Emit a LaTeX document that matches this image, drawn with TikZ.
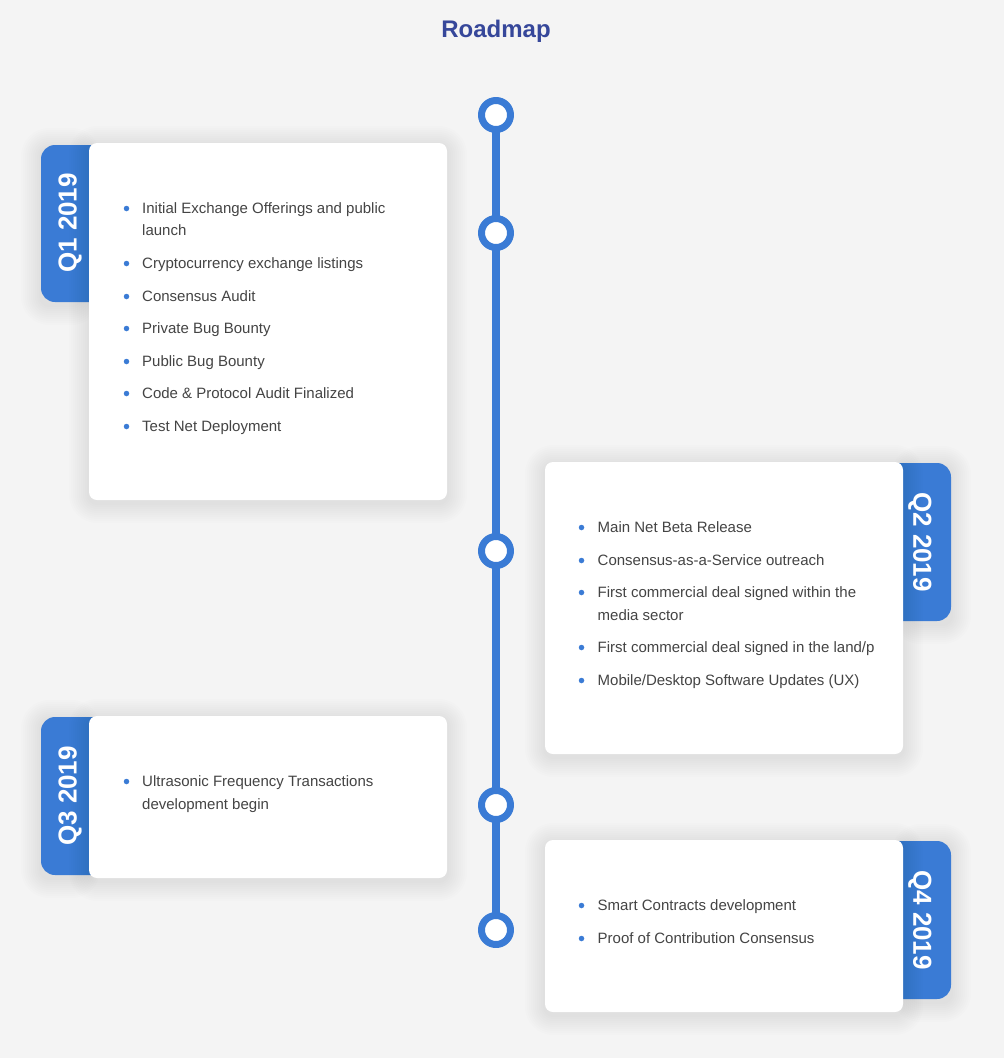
\documentclass[tikz,border=0pt]{standalone}
\usepackage{fontspec}
\setmainfont{Liberation Sans}
\definecolor{roadblue}{HTML}{3A7BD5}
\definecolor{titleblue}{HTML}{36479A}
\definecolor{pagegray}{HTML}{F4F4F4}
\definecolor{itemgray}{HTML}{444444}

% zachte schaduw onder een kaart of tab
\newcommand{\softshadow}[4]{%
  \foreach \s in {2,4,...,20} {
    \pgfmathsetmacro{\r}{8+\s}
    \fill[black,opacity=0.0075,rounded corners=\r pt] (#1-\s,#2-\s+3) rectangle (#3+\s,#4+\s+3);
  }%
}

\begin{document}
\begin{tikzpicture}[x=1pt,y=-1pt,line join=round,
  card/.style={fill=white,rounded corners=8pt},
  quartertab/.style={fill=roadblue,rounded corners=14pt},
  tablabel/.style={text=white,inner sep=0pt,font=\fontsize{26}{26}\selectfont\bfseries},
  entry/.style={text=itemgray,inner sep=0pt,anchor=base west,font=\fontsize{15}{23}\selectfont},
  bullet/.style={circle,fill=roadblue,inner sep=0pt,minimum size=5.5pt},
  milestone/.style={circle,draw=roadblue,fill=white,line width=7pt,minimum size=29pt,inner sep=0pt},
  spine/.style={draw=roadblue,line width=8pt,shorten <=-3pt,shorten >=-3pt}]
  \useasboundingbox (0,0) rectangle (1004,1058);
  \fill[pagegray] (0,0) rectangle (1004,1058);

  % titel
  \node[text=titleblue,inner sep=0pt,anchor=base,font=\fontsize{24}{24}\selectfont\bfseries] (title) at (496,37) {Roadmap};

  % tijdlijn
  \foreach \y [count=\i] in {115,233,551,805,930} {
    \node[milestone] (m\i) at (496,\y) {};
  }
  \foreach \i [evaluate=\i as \j using int(\i+1)] in {1,...,4} {
    \draw[spine] (m\i.south) -- (m\j.north);
  }

  % tabs en kaarten
  \softshadow{41}{145}{80}{302}
  \fill[quartertab] (41,145) rectangle (105,302);
  \softshadow{89}{143}{447}{500}
  \fill[card] (89,143) rectangle (447,500);
  \softshadow{912}{463}{951}{621}
  \fill[quartertab] (885,463) rectangle (951,621);
  \softshadow{545}{462}{903}{754}
  \fill[card] (545,462) rectangle (903,754);
  \softshadow{41}{717}{80}{875}
  \fill[quartertab] (41,717) rectangle (105,875);
  \softshadow{89}{716}{447}{878}
  \fill[card] (89,716) rectangle (447,878);
  \softshadow{912}{841}{951}{999}
  \fill[quartertab] (885,841) rectangle (951,999);
  \softshadow{545}{840}{903}{1012}
  \fill[card] (545,840) rectangle (903,1012);

  \node[tablabel,rotate=90] (q1) at (70,223) {Q1 2019};
  \node[tablabel,rotate=-90] (q2) at (920,542) {Q2 2019};
  \node[tablabel,rotate=90] (q3) at (70,796) {Q3 2019};
  \node[tablabel,rotate=-90] (q4) at (920,920) {Q4 2019};

  % punten Q1
  \foreach \y/\b/\txt [count=\i] in {%
    213/1/Initial Exchange Offerings and public,%
    235/0/launch,%
    268/1/Cryptocurrency exchange listings,%
    301/1/Consensus Audit,%
    333/1/Private Bug Bounty,%
    366/1/Public Bug Bounty,%
    398/1/Code \& Protocol Audit Finalized,%
    431/1/Test Net Deployment%
  } {
    \node[entry] (a\i) at (142,\y) {\txt};
    \ifnum\b=1 \node[bullet] (ab\i) at (126.5,\y-4.5) {}; \fi
  }

  % punten Q2
  \foreach \y/\b/\txt [count=\i] in {%
    532/1/Main Net Beta Release,%
    565/1/Consensus-as-a-Service outreach,%
    597/1/First commercial deal signed within the,%
    620/0/media sector,%
    652/1/{First commercial deal signed in the land/p},%
    685/1/{Mobile/Desktop Software Updates (UX)}%
  } {
    \node[entry] (b\i) at (597.5,\y) {\txt};
    \ifnum\b=1 \node[bullet] (bb\i) at (581.5,\y-4.5) {}; \fi
  }

  % punten Q3
  \foreach \y/\b/\txt [count=\i] in {%
    786/1/Ultrasonic Frequency Transactions,%
    809/0/development begin%
  } {
    \node[entry] (c\i) at (142,\y) {\txt};
    \ifnum\b=1 \node[bullet] (cb\i) at (126.5,\y-4.5) {}; \fi
  }

  % punten Q4
  \foreach \y/\b/\txt [count=\i] in {%
    910/1/Smart Contracts development,%
    943/1/Proof of Contribution Consensus%
  } {
    \node[entry] (d\i) at (597.5,\y) {\txt};
    \ifnum\b=1 \node[bullet] (db\i) at (581.5,\y-4.5) {}; \fi
  }
\end{tikzpicture}
\end{document}
